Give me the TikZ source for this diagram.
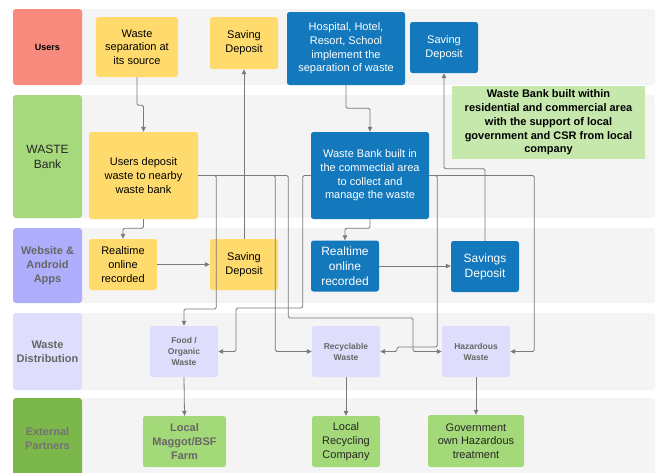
\documentclass[tikz,border=0pt]{standalone}
\usepackage{fontspec}
\setmainfont{Liberation Sans}
\usetikzlibrary{arrows.meta}
\definecolor{stripe}{HTML}{F4F4F4}
\definecolor{usersc}{HTML}{F88A7E}
\definecolor{bankc}{HTML}{A6D97C}
\definecolor{webc}{HTML}{AEAEFC}
\definecolor{distc}{HTML}{DEDEFC}
\definecolor{extc}{HTML}{7BB74A}
\definecolor{ylw}{HTML}{FFDB6E}
\definecolor{blu}{HTML}{1478BC}
\definecolor{ptnr}{HTML}{A4D979}
\definecolor{notec}{HTML}{C6E8AD}
\definecolor{lnk}{HTML}{7A7A7A}
\definecolor{txtgray}{HTML}{666666}
\begin{document}
\begin{tikzpicture}[x=1pt,y=-1pt,
	lane/.style={fill=stripe,rounded corners=3pt},
	lanehead/.style={rounded corners=3pt,align=center,minimum width=69pt,inner sep=0pt,font=\bfseries\fontsize{11}{14}\selectfont,text=txtgray},
	box/.style={rounded corners=2.5pt,align=center,inner sep=0pt,font=\fontsize{11}{13.7}\selectfont},
	ybox/.style={box,fill=ylw,minimum width=68pt,minimum height=51pt},
	bbox/.style={box,fill=blu,text=white},
	dbox/.style={box,fill=distc,text=txtgray,minimum width=68pt,minimum height=51pt,font=\bfseries\fontsize{8.5}{11}\selectfont},
	pbox/.style={box,fill=ptnr,text=black!85,minimum height=51pt},
	link/.style={draw=lnk,line width=0.8pt,rounded corners=1.5pt,-{Triangle[length=5pt,width=4.5pt]}}]
	\useasboundingbox (0,0) rectangle (660,472);
	% lanes
	\fill[lane] (13,9) rectangle (655,85);
	\fill[lane] (13,95) rectangle (655,218);
	\fill[lane] (13,228) rectangle (655,303);
	\fill[lane] (13,313) rectangle (655,390);
	\fill[lane] (13,398) rectangle (655,480);
	\node[lanehead,fill=usersc,minimum height=76pt,text=black,font=\bfseries\fontsize{9}{11}\selectfont](lusers) at (47.5,47){Users};
	\node[lanehead,fill=bankc,minimum height=123pt,text=black!85,font=\fontsize{12}{15}\selectfont](lbank) at (47.5,156.5){WASTE\\Bank};
	\node[lanehead,fill=webc,minimum height=75pt](lweb) at (47.5,265.5){Website \&\\Android\\Apps};
	\node[lanehead,fill=distc,minimum height=77pt](ldist) at (47.5,351.5){Waste\\Distribution};
	\node[lanehead,fill=extc,minimum height=82pt,text=black!55](lext) at (47.5,439){External\\Partners};
	% users
	\node[ybox,minimum width=82pt,minimum height=60pt](sep) at (137,47){Waste\\separation at\\its source};
	\node[ybox,minimum height=52pt](sdU) at (244,43){Saving\\Deposit};
	\node[bbox,minimum width=118pt,minimum height=73pt](hosp) at (346,48.5){Hospital, Hotel,\\Resort, School\\implement the\\separation of waste};
	\node[bbox,minimum width=68pt,minimum height=51pt](sdB) at (444,47.5){Saving\\Deposit};
	% waste bank
	\node[fill=notec,minimum width=193pt,minimum height=73pt,inner sep=0pt,align=center,font=\bfseries\fontsize{11}{13.7}\selectfont](note) at (548.5,122.5){Waste Bank built within\\residential and commercial area\\with the support of local\\government and CSR from local\\company};
	\node[ybox,minimum width=109pt,minimum height=87pt](dep) at (143.5,175.5){Users deposit\\waste to nearby\\waste bank};
	\node[bbox,minimum width=118pt,minimum height=87pt](wbb) at (370,175.5){Waste Bank built in\\the commectial area\\to collect and\\manage the waste};
	% website & apps
	\node[ybox](rtY) at (123,264.5){Realtime\\online\\recorded};
	\node[ybox](sdY) at (244,264.5){Saving\\Deposit};
	\node[bbox,minimum width=68pt,minimum height=51pt,font=\fontsize{12}{15}\selectfont](rtB) at (345,266){Realtime\\online\\recorded};
	\node[bbox,minimum width=68pt,minimum height=51pt,font=\fontsize{12}{15}\selectfont](sdS) at (485,266.5){Savings\\Deposit};
	% distribution
	\node[dbox](food) at (184,351.5){Food /\\Organic\\Waste};
	\node[dbox](recy) at (346,351.5){Recyclable\\Waste};
	\node[dbox](haz) at (476,351.5){Hazardous\\Waste};
	% partners
	\node[pbox,minimum width=83pt,text=txtgray,font=\bfseries\fontsize{11}{13.7}\selectfont](farm) at (184.5,441.5){Local\\Maggot/BSF\\Farm};
	\node[pbox,minimum width=68pt](rcom) at (346,441.5){Local\\Recycling\\Company};
	\node[pbox,minimum width=96pt,minimum height=52pt](gov) at (476,441){Government\\own Hazardous\\treatment};
	% connectors
	\draw[link] (sep.south) -- ++(0,28) -| (dep.north);
	\draw[link] (dep.south) -- ++(0,9) -| (rtY.north);
	\draw[link] (rtY.east) -- (sdY.west);
	\draw[link] (sdY.north) -- (sdU.south);
	\draw[link] (dep.east) -- ++(18,0) |- (184,309) -- (food.north);
	\draw[link] (dep.east) -- ++(77,0) |- (recy.west);
	\draw[link] (dep.east) -- ++(90,0) |- (413,318) |- (haz.west);
	\draw[link] (wbb.west) -- ++(-8,0) |- (236,308) |- (food.east);
	\draw[link] (wbb.east) -- ++(8,0) |- (397,347) |- (recy.east);
	\draw[link] (wbb.east) -- ++(105,0) |- (haz.east);
	\draw[link] (hosp.south) -- ++(0,23) -| (wbb.north);
	\draw[link] (wbb.south) -- ++(0,9) -| (rtB.north);
	\draw[link] (rtB.east) -- (rtB.east -| sdS.west);
	\draw[link] (sdS.north) -- ++(0,-72) -| (sdB.south);
	\draw[link] (food.south) -- (farm.north);
	\draw[link] (recy.south) -- (rcom.north);
	\draw[link] (haz.south) -- (gov.north);
\end{tikzpicture}
\end{document}
